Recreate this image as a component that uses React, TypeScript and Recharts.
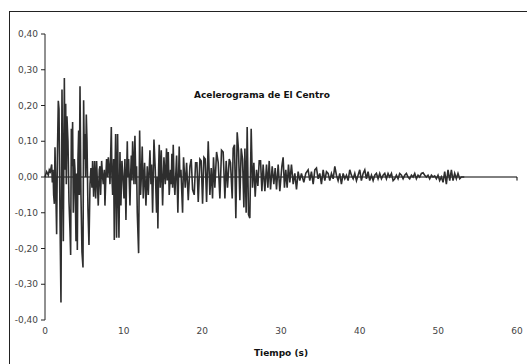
import { Line, LineChart, ReferenceLine, XAxis, YAxis } from "recharts"

const tiempo = [
  0, 0.21, 0.42, 0.55, 0.68, 0.85, 0.93, 1.02, 1.1, 1.19, 1.27, 1.36, 1.48, 1.57, 1.69, 1.78, 1.91, 2.03, 2.16, 2.24,
  2.33, 2.46, 2.54, 2.63, 2.71, 2.79, 2.92, 3.05, 3.18, 3.26, 3.35, 3.43, 3.51, 3.6, 3.73, 3.81, 3.94, 4.02, 4.11, 4.19,
  4.28, 4.36, 4.45, 4.57, 4.7, 4.83, 4.91, 5.0, 5.08, 5.17, 5.25, 5.34, 5.46, 5.59, 5.72, 5.84, 5.97, 6.05, 6.18, 6.31,
  6.44, 6.56, 6.65, 6.77, 6.9, 6.99, 7.07, 7.2, 7.32, 7.41, 7.54, 7.62, 7.75, 7.83, 7.96, 8.05, 8.17, 8.26, 8.43, 8.51,
  8.6, 8.72, 8.81, 8.89, 8.98, 9.1, 9.23, 9.32, 9.4, 9.53, 9.65, 9.78, 9.91, 10.04, 10.16, 10.29, 10.37, 10.46, 10.54, 10.63,
  10.8, 10.88, 10.97, 11.05, 11.14, 11.31, 11.43, 11.56, 11.64, 11.73, 11.9, 12.03, 12.15, 12.28, 12.36, 12.49, 12.66, 12.83, 13.0, 13.13,
  13.25, 13.34, 13.47, 13.55, 13.68, 13.85, 14.02, 14.18, 14.27, 14.35, 14.44, 14.52, 14.65, 14.78, 14.95, 15.12, 15.29, 15.45, 15.54, 15.67,
  15.79, 15.96, 16.05, 16.13, 16.22, 16.3, 16.39, 16.51, 16.73, 16.89, 17.06, 17.15, 17.28, 17.49, 17.61, 17.83, 18.0, 18.21, 18.42, 18.59,
  18.76, 18.97, 19.14, 19.31, 19.48, 19.69, 19.86, 20.03, 20.2, 20.37, 20.54, 20.75, 20.96, 21.13, 21.3, 21.42, 21.59, 21.81, 22.02, 22.23,
  22.44, 22.65, 22.87, 23.03, 23.2, 23.42, 23.58, 23.8, 23.92, 24.09, 24.26, 24.43, 24.6, 24.77, 24.94, 25.11, 25.28, 25.41, 25.57, 25.7,
  25.87, 26.04, 26.21, 26.38, 26.55, 26.72, 26.89, 27.06, 27.23, 27.4, 27.57, 27.73, 27.95, 28.16, 28.33, 28.5, 28.67, 28.88, 29.09, 29.26,
  29.43, 29.64, 29.85, 30.11, 30.27, 30.44, 30.61, 30.78, 30.95, 31.12, 31.33, 31.55, 31.76, 31.97, 32.18, 32.39, 32.6, 32.9, 33.15, 33.45,
  33.66, 33.87, 34.09, 34.3, 34.51, 34.72, 34.93, 35.14, 35.36, 35.57, 35.78, 35.99, 36.2, 36.41, 36.63, 36.84, 37.05, 37.26, 37.47, 37.68,
  37.9, 38.11, 38.32, 38.53, 38.74, 38.95, 39.17, 39.38, 39.59, 39.8, 40.01, 40.22, 40.44, 40.65, 40.86, 41.07, 41.28, 41.5, 41.71, 41.92,
  42.13, 42.34, 42.55, 42.77, 42.98, 43.19, 43.4, 43.61, 43.82, 44.04, 44.25, 44.46, 44.67, 44.88, 45.09, 45.31, 45.52, 45.73, 45.94, 46.15,
  46.36, 46.58, 46.79, 47.0, 47.21, 47.42, 47.63, 47.85, 48.06, 48.27, 48.48, 48.69, 48.9, 49.12, 49.33, 49.54, 49.75, 49.96, 50.17, 50.39,
  50.6, 50.81, 51.02, 51.23, 51.45, 51.66, 51.87, 52.08, 52.29, 52.5, 52.72, 52.93, 53.3,
]

const aceleracion = [
  0, 0.015, 0.005, 0.02, 0.015, 0.035, -0.015, 0.02, -0.05, -0.075, 0.083, -0.02, -0.16, 0.05, 0.213, 0.19, -0.12, -0.351, 0.245, 0.05,
  -0.18, 0.277, 0.02, 0.205, -0.02, 0.17, 0.1, -0.07, -0.15, -0.218, 0.135, 0.03, 0.154, -0.1, 0.05, 0.02, -0.18, 0.01, -0.204, 0.05,
  0.13, -0.05, 0.254, -0.05, -0.21, -0.253, 0.215, 0.05, 0.12, 0.0, 0.175, 0.1, -0.09, -0.19, -0.02, 0.025, -0.03, 0.045, -0.055, 0.045,
  -0.06, 0.045, -0.01, -0.08, 0.02, 0.03, -0.05, 0.045, 0.0, -0.02, 0.02, -0.08, 0.01, 0.05, 0.0, 0.055, 0.02, -0.02, 0.14, 0.0,
  -0.05, 0.05, -0.176, 0.0, 0.12, -0.17, 0.12, -0.05, -0.17, 0.07, -0.08, 0.045, 0.0, -0.06, 0.05, -0.12, 0.0, 0.1, 0.0, 0.05,
  -0.08, 0.0, 0.06, -0.01, 0.1, -0.02, 0.115, -0.02, 0.03, -0.1, -0.213, 0.13, -0.05, 0.02, 0.085, -0.06, 0.04, -0.08, 0.03, -0.05,
  0.02, 0.075, -0.02, 0.035, -0.1, 0.105, 0.02, -0.1, 0.0, -0.144, 0.02, 0.09, -0.03, 0.075, -0.08, 0.055, -0.02, 0.08, -0.01, 0.07,
  -0.05, 0.02, -0.02, 0.065, -0.03, 0.09, 0.0, -0.05, 0.06, -0.1, 0.085, 0.0, 0.02, -0.1, 0.055, -0.03, 0.04, -0.065, 0.03, 0.05,
  -0.035, -0.05, 0.04, 0.04, -0.07, 0.05, 0.045, -0.075, 0.055, 0.05, -0.07, 0.1, -0.05, 0.025, -0.06, 0.055, -0.03, 0.07, 0.04, -0.06,
  0.075, 0.07, -0.06, 0.045, -0.03, 0.05, 0.04, -0.06, 0.08, 0.09, -0.115, 0.125, 0.075, -0.065, 0.08, 0.05, -0.085, 0.08, -0.1, 0.14,
  -0.105, -0.115, 0.135, -0.03, 0.04, -0.055, 0.02, -0.025, 0.045, 0.045, -0.04, 0.035, -0.04, 0.035, -0.03, 0.045, -0.035, 0.03, -0.02, 0.025,
  -0.035, 0.035, -0.04, 0.03, 0.055, -0.03, 0.02, -0.03, 0.035, -0.015, 0.035, -0.02, 0.01, -0.035, 0.015, -0.01, 0.01, -0.015, 0.01, 0.02,
  -0.01, 0.015, -0.02, 0.02, 0.025, -0.005, 0.01, -0.02, 0.02, -0.01, 0.015, 0.01, -0.01, 0.01, -0.005, 0.03, 0.005, -0.01, 0.01, -0.02,
  0.01, -0.005, 0.005, -0.01, 0.02, 0.005, -0.005, 0.01, -0.01, 0.005, 0.02, -0.01, 0.01, 0.02, -0.005, 0.015, -0.01, 0.005, -0.01, 0.005,
  0.01, -0.005, 0.01, -0.005, 0.005, 0.01, -0.005, 0.01, 0.0, 0.01, -0.01, -0.005, 0.005, -0.005, 0.01, 0.005, -0.005, 0.005, 0.01, 0.0,
  -0.005, 0.005, 0.0, 0.01, -0.005, 0.005, 0.0, 0.01, 0.012, 0.005, 0.0, 0.005, -0.005, 0.005, 0.0, 0.003, -0.005, 0.005, -0.01, 0.0,
  -0.015, 0.015, -0.02, 0.02, -0.01, 0.02, -0.01, 0.01, -0.005, 0.01, -0.005, 0.0, 0,
]

const xTicks = [0, 10, 20, 30, 40, 50, 60]
const yTicks = [-0.4, -0.3, -0.2, -0.1, 0, 0.1, 0.2, 0.3, 0.4]

const data = tiempo.map((t, i) => ({ t, a: aceleracion[i] }))

const font = "'DejaVu Sans', Verdana, sans-serif"
const fmt = (v: number) => v.toFixed(2).replace(".", ",")

export default function App() {
  return (
    <div style={{ position: "absolute", left: 9, top: 11, width: 530, height: 360, border: "1px solid #222", fontFamily: font }}>
      <style>{"body{margin:0;overflow:hidden}"}</style>
      <LineChart width={530} height={360} data={data} margin={{ top: 22, right: 23, left: 0, bottom: 22 }}>
        <XAxis
          dataKey="t"
          type="number"
          domain={[0, 60]}
          ticks={xTicks}
          axisLine={false}
          tickLine={false}
          height={30}
          tick={{ fontSize: 9, fill: "#444", fontFamily: font }}
        />
        <YAxis
          type="number"
          domain={[-0.4, 0.4]}
          ticks={yTicks}
          width={35}
          tickSize={4}
          tickMargin={3}
          tickFormatter={fmt}
          axisLine={{ stroke: "#222" }}
          tickLine={{ stroke: "#222" }}
          tick={{ fontSize: 9, fill: "#444", fontFamily: font }}
        />
        <ReferenceLine y={0} stroke="#000" strokeWidth={1} />
        <Line
          dataKey="a"
          type="linear"
          stroke="#2e2e2e"
          strokeWidth={1.6}
          dot={false}
          isAnimationActive={false}
        />
        <ReferenceLine segment={[{ x: 60, y: 0 }, { x: 60, y: -0.01 }]} stroke="#000" />
      </LineChart>
      <div style={{ position: "absolute", left: 184, top: 78, fontSize: 9, fontWeight: "bold", color: "#111", whiteSpace: "nowrap" }}>
        Acelerograma de El Centro
      </div>
      <div style={{ position: "absolute", left: 0, width: 542, top: 336, textAlign: "center", fontSize: 9, fontWeight: "bold", color: "#111" }}>
        Tiempo (s)
      </div>
    </div>
  )
}
